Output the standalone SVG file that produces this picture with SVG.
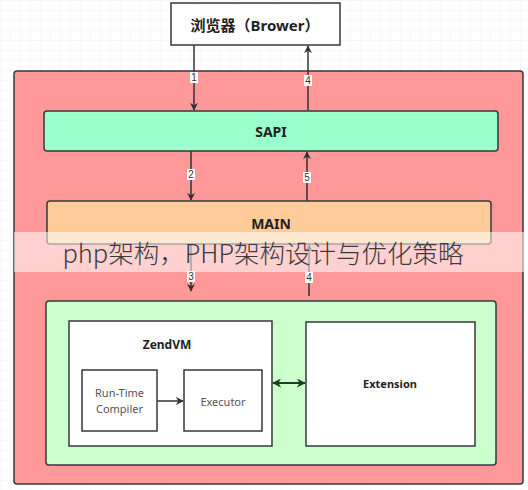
<svg xmlns="http://www.w3.org/2000/svg" width="528" height="490" viewBox="0 0 528 490">
<style>
.box{stroke:#36393d;stroke-width:1.5}
.w{fill:#ffffff;stroke:#36393d;stroke-width:1.5}
.t{font-family:"Noto Sans","Noto Sans CJK SC",sans-serif;font-weight:bold;fill:#222;text-anchor:middle;dominant-baseline:central}
.n{font-family:"Noto Sans","Noto Sans CJK SC",sans-serif;fill:#555;text-anchor:middle;dominant-baseline:central;font-size:11px}
.lbl{font-family:"Liberation Sans",sans-serif;font-size:10px;fill:#333;text-anchor:middle;dominant-baseline:central}
.c{stroke:#333;stroke-width:1.5;fill:none}
</style>
<defs>
<pattern id="grid" width="10" height="10" patternUnits="userSpaceOnUse">
<path d="M10 0H0V10" fill="none" stroke="#f2f2f2" stroke-width="1"/>
</pattern>
<marker id="ah" viewBox="0 0 10 10" refX="9" refY="5" markerWidth="8" markerHeight="8" orient="auto-start-reverse" markerUnits="userSpaceOnUse">
<path d="M0 0L10 5L0 10L3 5Z" fill="#333"/>
</marker>
<marker id="ahg" viewBox="0 0 10 10" refX="9" refY="5" markerWidth="9" markerHeight="9" orient="auto-start-reverse" markerUnits="userSpaceOnUse">
<path d="M0 0L10 5L0 10L3 5Z" fill="#1f3d26"/>
</marker>
</defs>
<rect width="528" height="490" fill="#ffffff"/>
<rect width="528" height="490" fill="url(#grid)"/>

<g id="browser">
<rect x="171" y="3" width="169" height="42" class="w"/>
<text x="255" y="25" class="t" font-size="15">浏览器（Brower）</text>
</g>

<g id="php">
<rect x="14" y="71" width="509" height="413" rx="3" fill="#ff9999" class="box"/>
</g>

<g id="sapi">
<rect x="44" y="111" width="454" height="40" rx="3" fill="#99ffcc" class="box"/>
<text x="271" y="131" class="t" font-size="14">SAPI</text>
</g>

<g id="main">
<rect x="47" y="201" width="444" height="43" rx="3" fill="#ffcc99" class="box"/>
<text x="271" y="223" class="t" font-size="14">MAIN</text>
</g>

<g id="core">
<rect x="46" y="301" width="450" height="164" rx="3" fill="#ccffcc" class="box"/>
</g>

<g id="zendvm">
<rect x="69" y="321" width="203" height="125" class="w"/>
<text x="167" y="344" class="t" font-size="12">ZendVM</text>
</g>

<g id="compiler">
<rect x="82" y="370" width="75" height="61" class="w"/>
<text x="119.5" y="392" class="n">Run-Time</text>
<text x="119.5" y="408" class="n">Compiler</text>
</g>

<g id="executor">
<rect x="184" y="370" width="78" height="61" class="w"/>
<text x="223" y="401" class="n">Executor</text>
</g>

<g id="extension">
<rect x="306" y="322" width="169" height="124" class="w"/>
<text x="390" y="383" class="t" font-size="11">Extension</text>
</g>

<g id="connectors">
<line x1="194" y1="45" x2="194" y2="110" class="c" marker-end="url(#ah)"/>
<line x1="308" y1="110" x2="308" y2="46" class="c" marker-end="url(#ah)"/>
<line x1="191" y1="151" x2="191" y2="200" class="c" marker-end="url(#ah)"/>
<line x1="307" y1="201" x2="307" y2="152" class="c" marker-end="url(#ah)"/>
<line x1="191" y1="244" x2="191" y2="291" class="c" marker-end="url(#ah)"/>
<line x1="309" y1="296" x2="309" y2="245" class="c" marker-end="url(#ah)"/>
<line x1="157" y1="401" x2="183" y2="401" class="c" marker-end="url(#ah)"/>
<line x1="273" y1="383" x2="305" y2="383" stroke="#1f3d26" stroke-width="2" marker-start="url(#ahg)" marker-end="url(#ahg)"/>
<rect x="190" y="72" width="8" height="11" fill="#fff"/>
<text x="194" y="77.5" class="lbl">1</text>
<rect x="304" y="75" width="8" height="11" fill="#fff"/>
<text x="308" y="80.5" class="lbl">4</text>
<rect x="187" y="169" width="8" height="11" fill="#fff"/>
<text x="191" y="174.5" class="lbl">2</text>
<rect x="303" y="172" width="8" height="11" fill="#fff"/>
<text x="307" y="177.5" class="lbl">5</text>
<rect x="187" y="271" width="8" height="11" fill="#fff"/>
<text x="191" y="276.5" class="lbl">3</text>
<rect x="305" y="272" width="8" height="11" fill="#fff"/>
<text x="309" y="277.5" class="lbl">4</text>
</g>

<g id="watermark">
<rect x="14" y="232" width="514" height="40" fill="#ffffff" fill-opacity="0.55"/>
<text x="263" y="251" font-family="Noto Sans CJK SC,sans-serif" font-size="25.5" font-weight="300" fill="#3a3a3a" text-anchor="middle" dominant-baseline="central">php架构，PHP架构设计与优化策略</text>
</g>
</svg>
